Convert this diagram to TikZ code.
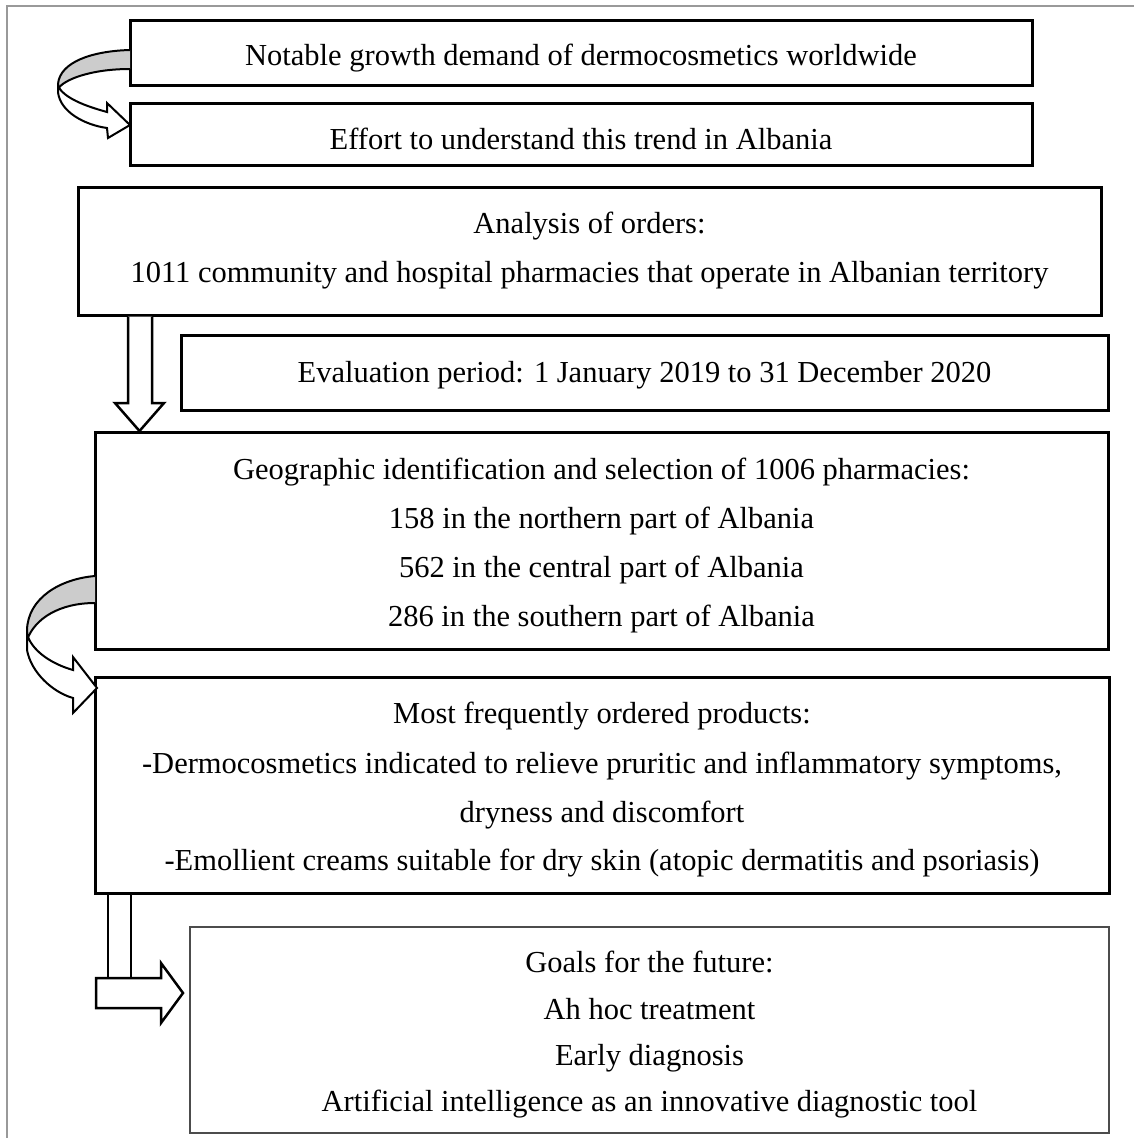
\documentclass[tikz,border=0pt]{standalone}
\usepackage{fontspec}
\setmainfont{Liberation Serif}
\begin{document}
\begin{tikzpicture}[x=1pt,y=-1pt,
  box/.style={draw=black, line width=3pt, fill=white, inner sep=0pt, outer sep=0pt, rectangle},
  thinbox/.style={draw=black!70, line width=1.5pt, fill=white, inner sep=0pt, outer sep=0pt, rectangle},
  txt/.style={anchor=base, inner sep=0pt, font=\fontsize{30.5}{36}\selectfont},
  blockarrow/.style={draw=black, line width=2.5pt, fill=white, line join=miter},
  curvegray/.style={draw=black, line width=2pt, fill=black!20, line join=round},
  curvewhite/.style={draw=black, line width=2pt, fill=white, line join=miter}]
\useasboundingbox (0,0) rectangle (1134,1138);
% frame
\draw[black!40, line width=2pt] (7,1138) -- (7,6) -- (1134,6);

% boxes
\node[box, minimum width=902, minimum height=65] (b1) at (581,52.5) {};
\node[box, minimum width=902, minimum height=62] (b2) at (581,134) {};
\node[box, minimum width=1023, minimum height=128] (b3) at (589.5,251) {};
\node[box, minimum width=927, minimum height=75] (b4) at (644.5,372.5) {};
\node[box, minimum width=1013, minimum height=217] (b5) at (601.5,540.5) {};
\node[box, minimum width=1014, minimum height=216] (b6) at (602,785) {};
\node[thinbox, minimum width=919, minimum height=206] (b7) at (649.5,1030) {};

% texts
\node[txt] (t1) at (581,65) {Notable growth demand of dermocosmetics worldwide};
\node[txt] (t2) at (581,149) {Effort to understand this trend in Albania};
\node[txt] (t3a) at (589.5,233) {Analysis of orders:};
\node[txt] (t3b) at (589.5,282) {1011 community and hospital pharmacies that operate in Albanian territory};
\node[txt] (t4) at (644.5,382) {Evaluation period: 1 January 2019 to 31 December 2020};
\node[txt] (t5a) at (601.5,479) {Geographic identification and selection of 1006 pharmacies:};
\node[txt] (t5b) at (601.5,528) {158 in the northern part of Albania};
\node[txt] (t5c) at (601.5,577) {562 in the central part of Albania};
\node[txt] (t5d) at (601.5,626) {286 in the southern part of Albania};
\node[txt] (t6a) at (602,723) {Most frequently ordered products:};
\node[txt] (t6b) at (602,773) {-Dermocosmetics indicated to relieve pruritic and inflammatory symptoms,};
\node[txt] (t6c) at (602,822) {dryness and discomfort};
\node[txt] (t6d) at (602,870) {-Emollient creams suitable for dry skin (atopic dermatitis and psoriasis)};
\node[txt] (t7a) at (649.5,972) {Goals for the future:};
\node[txt] (t7b) at (649.5,1019) {Ah hoc treatment};
\node[txt] (t7c) at (649.5,1065) {Early diagnosis};
\node[txt] (t7d) at (649.5,1111) {Artificial intelligence as an innovative diagnostic tool};

% down block arrow (b3 -> b5)
\draw[blockarrow] (128,316.5) -- (128,403) -- (115,403) -- (139.5,431) -- (164,403) -- (152,403) -- (152,316.5);

% L-shaped block arrow (b6 -> b7)
\draw[blockarrow] (108,894.5) -- (108,978);
\draw[blockarrow] (131,894.5) -- (131,978);
\draw[blockarrow] (96,978) -- (161,978) -- (161,963) -- (183,993) -- (161,1023) -- (161,1008) -- (96,1008) -- cycle;

% curved arrow (b1 -> b2)
\draw[curvegray] (130,50) .. controls (92,51) and (60,62) .. (58,84) -- (58,89)
  .. controls (63,80) and (90,69) .. (130,69);
\draw[curvewhite] (58,84) -- (58,92) .. controls (60,112) and (85,125) .. (107,128)
  -- (108,138) -- (130,125) -- (107,103) -- (107,112)
  .. controls (85,106) and (64,98) .. (58,86);

% curved arrow (b5 -> b6)
\draw[curvegray] (95,576) .. controls (60,579) and (28,598) .. (27,630) -- (27,640)
  .. controls (35,618) and (60,603) .. (95,603);
\draw[curvewhite] (27,632) -- (27,650) .. controls (31,672) and (52,692) .. (73,698)
  -- (73,713) -- (97,688) -- (73,657) -- (73,670)
  .. controls (52,664) and (34,652) .. (28,637);
\end{tikzpicture}
\end{document}
